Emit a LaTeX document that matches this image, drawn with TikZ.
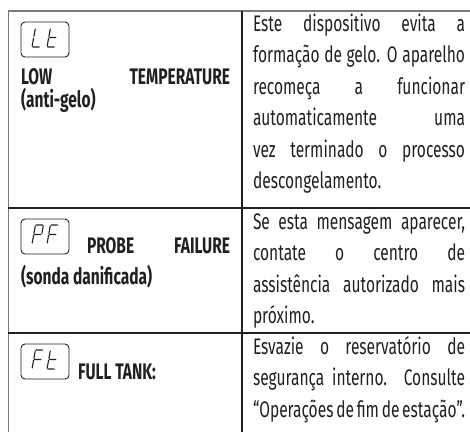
\documentclass[tikz,border=0pt]{standalone}
\usepackage{fontspec}
\setmainfont{Fira Sans}[FakeStretch=0.69]
\definecolor{ink}{HTML}{231F20}
\definecolor{framegrey}{HTML}{7A7A7A}
\newcommand{\jline}[2]{\makebox[#1][s]{#2}}
\tikzset{
  txt/.style={inner sep=0pt, outer sep=0pt, text=ink, anchor=base west, font=\fontsize{22.5}{26}\selectfont},
  btxt/.style={txt, font=\fontsize{22.5}{26}\selectfont\bfseries},
  frame/.style={draw=framegrey, line width=1.2pt},
  divider/.style={draw=ink, line width=2.2pt},
  lcdbox/.style={draw=ink, line width=0.9pt, rounded corners=4pt, minimum width=48pt, minimum height=35pt, inner sep=0pt},
  seg/.style={draw=ink, line width=1.1pt, line cap=round},
  glyphL/.pic={\begin{scope}[xslant=0.18, x=8pt, y=9.5pt]
      \draw[seg] (0,1.9)--(0,1.1) (0,0.9)--(0,0.1) (0.1,0)--(0.9,0);\end{scope}},
  glypht/.pic={\begin{scope}[xslant=0.18, x=8pt, y=9.5pt]
      \draw[seg] (0,1.9)--(0,1.1) (0,0.9)--(0,0.1) (0.1,0)--(0.9,0) (0.1,1)--(0.9,1);\end{scope}},
  glyphP/.pic={\begin{scope}[xslant=0.18, x=8pt, y=9.5pt]
      \draw[seg] (0.1,2)--(0.9,2) (1,1.9)--(1,1.1) (0.1,1)--(0.9,1) (0,1.9)--(0,1.1) (0,0.9)--(0,0.1);\end{scope}},
  glyphF/.pic={\begin{scope}[xslant=0.18, x=8pt, y=9.5pt]
      \draw[seg] (0.1,2)--(0.9,2) (0.1,1)--(0.9,1) (0,1.9)--(0,1.1) (0,0.9)--(0,0.1);\end{scope}},
}
\begin{document}
\begin{tikzpicture}[x=1pt,y=1pt]
\useasboundingbox (0,0) rectangle (470,-432);
% frame
\coordinate (tl) at (8.5,-11);
\coordinate (tr) at (470,-11);
\coordinate (bl) at (8.5,-432);
\draw[frame] (bl) -- (tl) -- (tr);
\coordinate (ct) at (242,-11);
\coordinate (cb) at (242,-432);
\draw[divider] (ct) -- (cb);
\coordinate (d1l) at (8,-208);
\coordinate (d1r) at (470,-208);
\coordinate (d2l) at (8,-333);
\coordinate (d2r) at (470,-333);
\draw[divider] (d1l) -- (d1r);
\draw[divider] (d2l) -- (d2r);
% LCD boxes
\node[lcdbox] (lcd1) at (45,-39.5) {};
\node[lcdbox] (lcd2) at (45,-236.5) {};
\node[lcdbox] (lcd3) at (45,-361.5) {};
\pic at (32,-47) {glyphL};
\pic at (47,-47) {glypht};
\pic at (32,-244) {glyphP};
\pic at (47,-244) {glyphF};
\pic at (32,-369) {glyphF};
\pic at (47,-369) {glypht};
% left column labels
\node[btxt] (lt1) at (21,-84) {\jline{209pt}{LOW TEMPERATURE}};
\node[btxt] (lt2) at (21,-107) {(anti-gelo)};
\node[btxt] (pf1) at (87,-253) {\jline{143pt}{PROBE FAILURE}};
\node[btxt] (pf2) at (21,-284) {(sonda danificada)};
\node[btxt] (ft1) at (78,-379) {FULL TANK:};
% right column
\foreach \t [count=\i] in {Este dispositivo evita a, formação de gelo. O aparelho, recomeça a funcionar, automaticamente uma, vez terminado o processo}
  \node[txt] (ra\i) at (253,-31-31.5*\i+31.5) {\jline{212pt}{\t}};
\node[txt] (ra6) at (253,-188.5) {descongelamento.};
\foreach \t [count=\i] in {{Se esta mensagem aparecer,}, contate o centro de, assistência autorizado mais}
  \node[txt] (rb\i) at (253,-229-31.5*\i+31.5) {\jline{212pt}{\t}};
\node[txt] (rb4) at (253,-323.5) {próximo.};
\foreach \t [count=\i] in {Esvazie o reservatório de, segurança interno. Consulte, “Operações de fim de estação”.}
  \node[txt] (rc\i) at (253,-354-31.5*\i+31.5) {\jline{212pt}{\t}};
\end{tikzpicture}
\end{document}
